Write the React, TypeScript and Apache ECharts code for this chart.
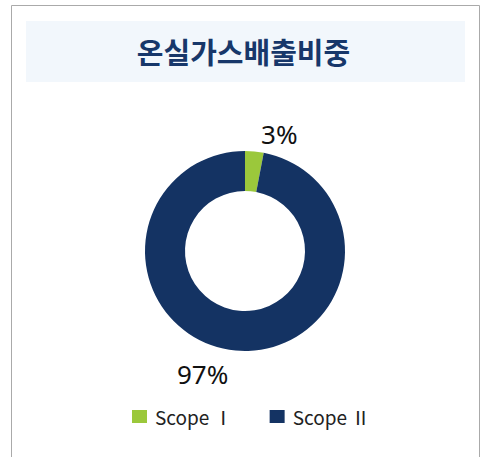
import React, { useEffect, useRef } from "react";
import * as echarts from "echarts";

const titleText = "온실가스배출비중";
const categories = ["Scope Ⅰ", "Scope Ⅱ"];
const values = [3, 97];
const colors = ["#9BC83B", "#143363"];
const labelLineLengths = [18, 24];

export default function App() {
  const ref = useRef<HTMLDivElement>(null);
  useEffect(() => {
    if (!ref.current) return;
    const chart = echarts.init(ref.current, null, { renderer: "svg" });
    chart.setOption({
      animation: false,
      backgroundColor: "#ffffff",
      graphic: [
        {
          type: "rect",
          shape: { x: 11.5, y: 5.5, width: 468, height: 470 },
          style: { fill: "none", stroke: "#AAAAAA", lineWidth: 1 },
          silent: true,
          z: 0,
        },
        {
          type: "rect",
          shape: { x: 26, y: 21, width: 439, height: 61 },
          style: { fill: "#F2F7FC" },
          silent: true,
          z: 0,
        },
      ],
      title: {
        text: titleText,
        left: "center",
        top: 34,
        padding: 0,
        textStyle: {
          fontFamily: "Noto Sans CJK KR",
          fontWeight: "bold",
          fontSize: 29,
          color: "#17376A",
          lineHeight: 34,
        },
      },
      legend: {
        data: categories,
        left: 132,
        top: 407,
        padding: 0,
        itemWidth: 15,
        itemHeight: 13,
        itemGap: 37,
        icon: "rect",
        selectedMode: false,
        textStyle: {
          fontFamily: "Noto Sans CJK KR",
          fontSize: 19,
          color: "#222222",
          padding: [0, 0, 0, 3],
        },
      },
      series: [
        {
          type: "pie",
          center: [245, 251],
          radius: [60, 100],
          startAngle: 90,
          clockwise: true,
          silent: true,
          avoidLabelOverlap: false,
          label: {
            show: true,
            position: "outside",
            formatter: "{d}%",
            fontFamily: "Noto Sans",
            fontSize: 26,
            color: "#111111",
          },
          labelLine: { show: false, length2: 0 },
          data: categories.map((name, i) => ({
            name,
            value: values[i],
            itemStyle: { color: colors[i] },
            labelLine: { show: false, length: labelLineLengths[i], length2: 0 },
          })),
        },
      ],
    });
    return () => chart.dispose();
  }, []);
  return (
    <div
      ref={ref}
      style={{ position: "fixed", left: 0, top: 0, width: 487, height: 457 }}
    />
  );
}
